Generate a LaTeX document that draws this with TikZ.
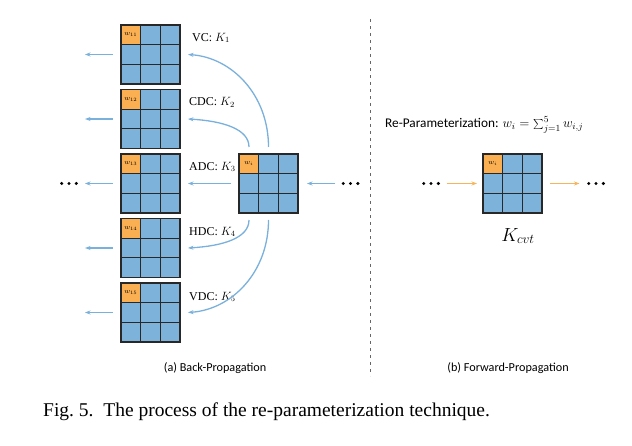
\RequirePackage{fix-cm}
\documentclass[tikz,border=0pt]{standalone}
\usepackage{fontspec}
\setmainfont{Liberation Serif}
\setsansfont{Carlito}
\usetikzlibrary{arrows.meta,calc}
\definecolor{cellblue}{RGB}{125,179,218}
\definecolor{cellorange}{RGB}{250,176,82}
\definecolor{arrblue}{RGB}{122,176,220}
\definecolor{arrorange}{RGB}{248,180,90}
\definecolor{gridline}{RGB}{40,40,40}
\newcommand\kgrid[4]{%
  \node[gridbox] (#1) at (#2,#3) {};
  \fill[cellorange] (#1.north west) rectangle ($(#1.north west)+(19.667,19.667)$);
  \draw[gridlines] (#1.north west) rectangle (#1.south east);
  \foreach \f in {1,2} {
    \draw[gridlines] ($(#1.north west)!\f/3!(#1.north east)$) -- ($(#1.south west)!\f/3!(#1.south east)$);
    \draw[gridlines] ($(#1.north west)!\f/3!(#1.south west)$) -- ($(#1.north east)!\f/3!(#1.south east)$);
  }
  \node[celltext] at ($(#1.north west)+(9.8,9.8)$) {#4};
}
\newcommand\dotsnode[3]{%
  \node[dotbox] (#1) at (#2,#3) {};
  \foreach \d in {-7.3,0,7.3} \fill ($(#1.center)+(\d,0)$) circle (1.7pt);
}
\begin{document}
\begin{tikzpicture}[x=1pt,y=-1pt,
  gridbox/.style={minimum size=59pt,inner sep=0pt,outer sep=0pt,fill=cellblue},
  gridlines/.style={draw=gridline,line width=1.3pt},
  celltext/.style={font=\fontsize{7}{8}\selectfont,inner sep=0pt},
  dotbox/.style={minimum width=17pt,minimum height=4pt,inner sep=0pt,outer sep=0pt},
  barrow/.style={draw=arrblue,line width=1.3pt,-{Stealth[length=5.5pt,width=4pt]}},
  oarrow/.style={draw=arrorange,line width=1.3pt,-{Stealth[length=5.5pt,width=4pt]}},
  klabel/.style={anchor=west,inner sep=0pt,font=\fontsize{12}{14}\selectfont},
  sublabel/.style={font=\sffamily\fontsize{12.2}{14}\selectfont,inner sep=0pt},
]
\useasboundingbox (0,0) rectangle (632,446);

% left column of kernels
\kgrid{g1}{150.5}{54.5}{$w_{11}$}
\kgrid{g2}{150.5}{119}{$w_{12}$}
\kgrid{g3}{150.5}{183.5}{$w_{13}$}
\kgrid{g4}{150.5}{248}{$w_{14}$}
\kgrid{g5}{150.5}{312.5}{$w_{15}$}

% center kernel
\kgrid{c}{268.5}{183.5}{$w_i$}
% right kernel
\kgrid{R}{512.5}{183.5}{$w_i$}

% labels
\node[klabel] (l1) at (192,38) {VC: $K_1$};
\node[klabel] (l2) at (189,102.5) {CDC: $K_2$};
\node[klabel] (l3) at (189,167) {ADC: $K_3$};
\node[klabel] (l4) at (189,232) {HDC: $K_4$};
\node[klabel] (l5) at (189,297) {VDC: $K_5$};

% dots
\dotsnode{dl}{69}{183.5}
\dotsnode{dr}{350.5}{183.5}
\dotsnode{rl}{431}{183.5}
\dotsnode{rr}{596}{183.5}

% left output arrows
\coordinate (e1) at (85,54.5);
\coordinate (e2) at (85,119);
\coordinate (e4) at (85,248);
\coordinate (e5) at (85,312.5);
\draw[barrow] ([xshift=-8pt]g1.west) -- (e1);
\draw[barrow] ([xshift=-8pt]g2.west) -- (e2);
\draw[barrow] ([xshift=-8pt]g3.west) -- ([xshift=7.5pt]dl.east);
\draw[barrow] ([xshift=-8pt]g4.west) -- (e4);
\draw[barrow] ([xshift=-8pt]g5.west) -- (e5);

% center connections
\draw[barrow] ([xshift=-7pt]dr.west) -- ([xshift=9pt]c.east);
\draw[barrow] ([xshift=-8pt]c.west) -- ([xshift=8pt]g3.east);
\draw[barrow] ([yshift=7pt]c.north) .. controls +(0,-52) and +(44,3) .. ([xshift=8pt]g1.east);
\draw[barrow] ([xshift=10pt,yshift=7pt]c.north west) .. controls +(0,-18) and +(35,2) .. ([xshift=8pt]g2.east);
\draw[barrow] ([xshift=10pt,yshift=-7pt]c.south west) .. controls +(0,18) and +(35,-2) .. ([xshift=8pt]g4.east);
\draw[barrow] ([yshift=-7pt]c.south) .. controls +(0,52) and +(44,-3) .. ([xshift=8pt]g5.east);

% divider
\coordinate (dtop) at (370.5,19);
\coordinate (dbot) at (370.5,376);
\draw[black!60,line width=1.1pt,dash pattern=on 3pt off 4pt] (dtop) -- (dbot);

% right side
\node[anchor=west,inner sep=0pt,font=\sffamily\fontsize{13.3}{15}\selectfont] (rp) at (385,125) {Re-Parameterization: $w_i=\sum_{j=1}^{5} w_{i,j}$};
\draw[oarrow] ([xshift=7pt]rl.east) -- ([xshift=-6pt]R.west);
\draw[oarrow] ([xshift=8pt]R.east) -- ([xshift=-8pt]rr.west);
\node[inner sep=0pt,font=\fontsize{19}{21}\selectfont] (kc) at (518,236) {$K_{cvt}$};

% sub captions
\node[sublabel] (ca) at (215,368) {(a) Back-Propagation};
\node[sublabel] (cb) at (508,368) {(b) Forward-Propagation};

% figure caption
\node[anchor=base west,inner sep=0pt,font=\fontsize{19.5}{22}\selectfont] (fig) at (43,416) {Fig.~5.\ \ The process of the re-parameterization technique.};
\end{tikzpicture}
\end{document}
